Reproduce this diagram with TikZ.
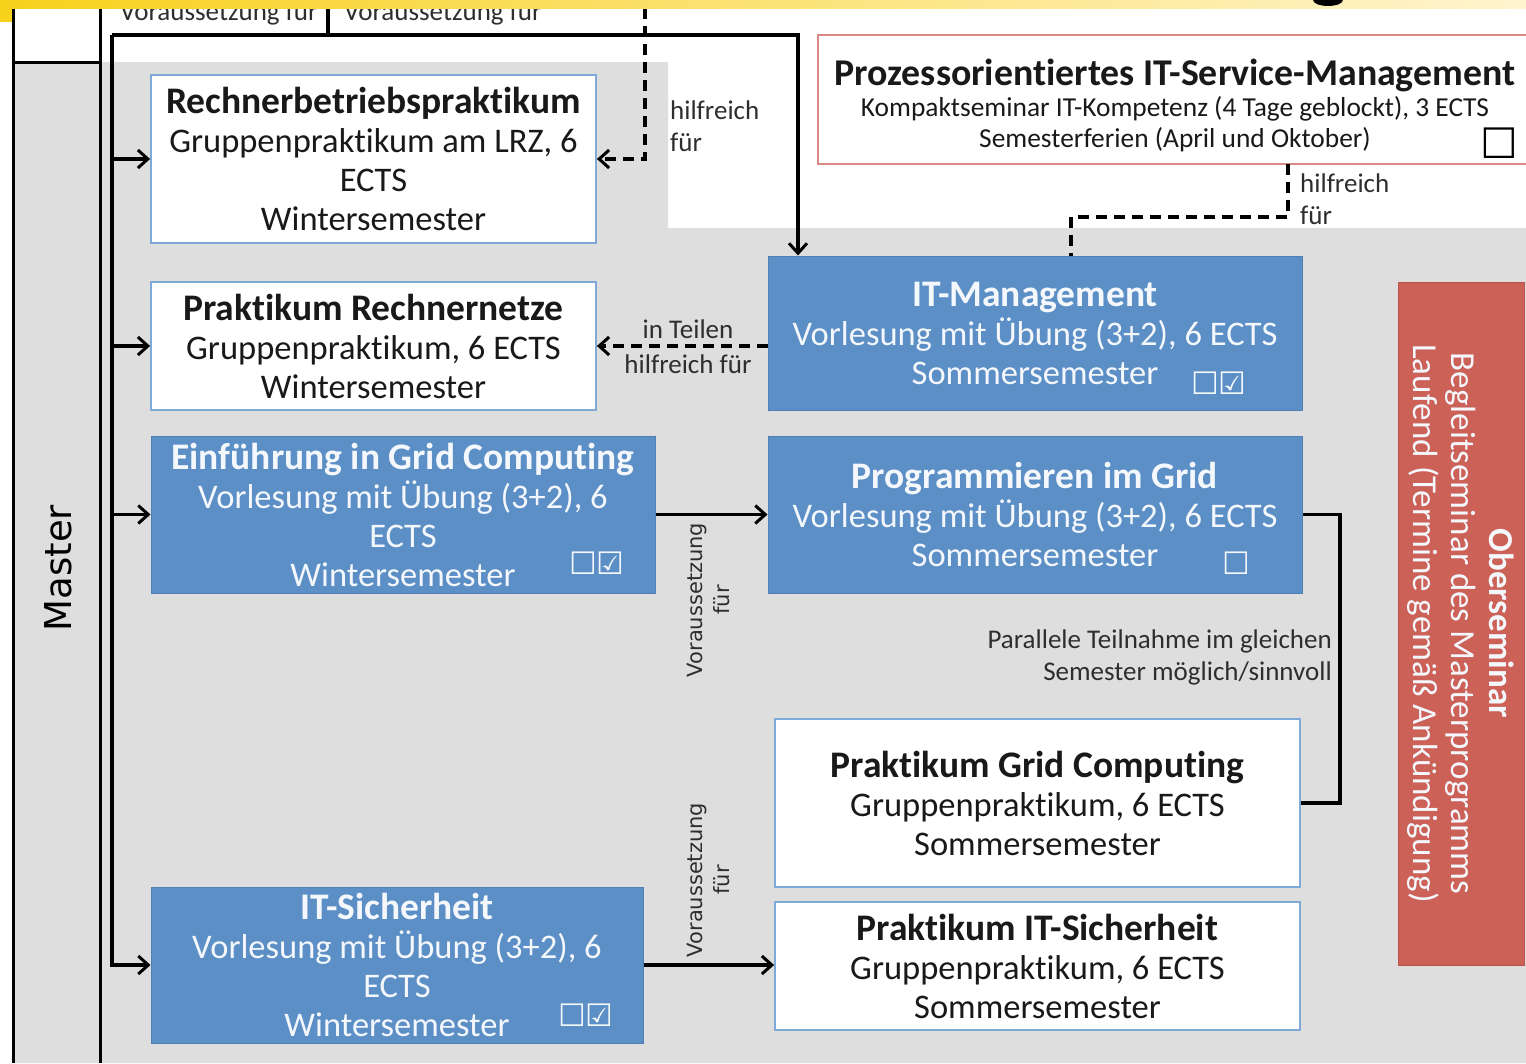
\documentclass[tikz,border=0pt]{standalone}
\usepackage{fontspec}
\setmainfont{Carlito}[Ligatures=NoCommon]
\newfontfamily\dejavu{DejaVu Sans}
\usetikzlibrary{arrows.meta,calc}
\definecolor{boxblue}{HTML}{5B8FC6}
\definecolor{boxblueline}{HTML}{4F80B5}
\definecolor{bordblue}{HTML}{7FA9D8}
\definecolor{bggrey}{HTML}{DEDEDE}
\definecolor{redfill}{HTML}{CC6158}
\definecolor{redfillline}{HTML}{B9544C}
\definecolor{redline}{HTML}{DA8A84}
\definecolor{txtwhite}{HTML}{F4F7FB}
\definecolor{lblgrey}{HTML}{2E2E2E}
\definecolor{yellA}{HTML}{F8D11C}
\definecolor{yellB}{HTML}{FFF4CF}
\begin{document}
\begin{tikzpicture}[x=1pt,y=-1pt,
  wbox/.style={draw=bordblue,line width=1.8pt,fill=white,text=black!90,align=center,inner sep=0pt,
    font=\fontsize{34.5}{39}\selectfont},
  bbox/.style={draw=boxblueline,line width=1pt,fill=boxblue,text=txtwhite,align=center,inner sep=0pt,
    font=\fontsize{34.5}{39}\selectfont},
  lbl/.style={text=lblgrey,inner sep=0pt,font=\fontsize{27}{32}\selectfont},
  rlbl/.style={text=lblgrey,inner sep=0pt,rotate=90,align=center,font=\dejavu\fontsize{21}{27}\selectfont},
  chk/.style={inner sep=0pt,text=txtwhite,font=\dejavu\fontsize{31}{31}\selectfont},
  conn/.style={line width=3.2pt,black},
  arr/.style={conn,-{Straight Barb[length=10pt,width=18pt,line width=3pt]}},
  darr/.style={arr,dash pattern=on 11pt off 7pt},
  dline/.style={conn,dash pattern=on 11pt off 7pt},
]
\useasboundingbox (0,0) rectangle (1526,1063);
\fill[white] (0,0) rectangle (1526,1063);
% grey background
\fill[bggrey] (13,62) -- (668,62) -- (668,228) -- (1526,228) -- (1526,1063) -- (13,1063) -- cycle;
\fill[white] (13,8) rectangle (100,62);
% frame lines of the left column
\draw[line width=3pt] (13,8) -- (13,1063);
\draw[line width=3pt] (100,8) -- (100,1063);
\draw[line width=3pt] (13,62) -- (100,62);
\node[rotate=90,inner sep=0pt,font=\dejavu\fontsize{37}{37}\selectfont] (master) at (58,568) {Master};

% boxes
\newcommand\hdA[1]{{\bfseries\fontsize{37.5}{39}\selectfont #1}}
\node[wbox,minimum width=445pt,minimum height=168pt] (rbp) at (373.5,159)
  {\hdA{Rechnerbetriebspraktikum}\\Gruppenpraktikum am LRZ, 6\\ECTS\\Wintersemester};
\node[wbox,minimum width=445pt,minimum height=128pt] (prn) at (373.5,346)
  {\hdA{Praktikum Rechnernetze}\\Gruppenpraktikum, 6 ECTS\\Wintersemester};
\node[bbox,minimum width=504pt,minimum height=157pt] (egc) at (403,514.5)
  {\hdA{Einführung in Grid Computing}\\Vorlesung mit Übung (3+2), 6\\ECTS\\Wintersemester};
\node[bbox,minimum width=492pt,minimum height=156pt] (its) at (397,965)
  {\hdA{IT-Sicherheit}\\Vorlesung mit Übung (3+2), 6\\ECTS\\Wintersemester};
\node[bbox,minimum width=534pt,minimum height=154pt] (itm) at (1035,333)
  {\hdA{IT-Management}\\Vorlesung mit Übung (3+2), 6 ECTS\\Sommersemester};
\node[bbox,minimum width=534pt,minimum height=157pt] (pig) at (1035,514.5)
  {\hdA{Programmieren im Grid}\\Vorlesung mit Übung (3+2), 6 ECTS\\Sommersemester};
\node[wbox,minimum width=525pt,minimum height=168pt] (pgc) at (1037.5,803)
  {\hdA{Praktikum Grid Computing}\\Gruppenpraktikum, 6 ECTS\\Sommersemester};
\node[wbox,minimum width=525pt,minimum height=128pt] (pis) at (1037.5,966)
  {\hdA{Praktikum IT-Sicherheit}\\Gruppenpraktikum, 6 ECTS\\Sommersemester};
\node[fill=white,inner sep=0pt,minimum width=708pt,minimum height=129pt] (itsm) at (1172,99.5) {};
\node[inner sep=0pt,align=center,font=\fontsize{27.4}{31}\selectfont,text=black!90] (itsmtxt) at (1175,105)
  {{\bfseries\fontsize{37.8}{36}\selectfont Prozessorientiertes IT-Service-Management}\\Kompaktseminar IT-Kompetenz (4 Tage geblockt), 3 ECTS\\Semesterferien (April und Oktober)};
\draw[redline,line width=2pt] (itsm.north east) -- (itsm.north west) -- (itsm.south west) -- (itsm.south east);
\node[fill=redfill,draw=redfillline,line width=1pt,minimum width=126pt,minimum height=683pt,inner sep=0pt] (obs) at (1461,623.5) {};
\node[rotate=-90,text=txtwhite,align=center,inner sep=0pt,font=\fontsize{35}{38}\selectfont] (obstxt) at (obs.center)
  {{\bfseries Oberseminar}\\Begleitseminar des Masterprogramms\\Laufend (Termine gemäß Ankündigung)};

% checkboxes
\node[chk] (c1) at (597,563) {☐☑};
\node[chk] (c2) at (586,1015) {☐☑};
\node[chk] (c3) at (1219,383) {☐☑};
\node[chk] (c4) at (1236,563) {☐};
\node[chk,text=black,font=\dejavu\fontsize{42}{42}\selectfont] (c5) at (1499,143) {☐};

% connectors
\coordinate (tl) at (112,35);
\coordinate (tr) at (798,35);
\coordinate (tb) at (112,965);
\coordinate (sep1) at (328,8);
\coordinate (sep2) at (328,35);
\draw[conn] (sep1) -- (sep2);
\draw[arr] (tl) -- (tr) -- (tr |- itm.north);
\draw[arr] (tl) -- (tb) -- (its.west);
\draw[arr] (tl |- rbp.west) -- (rbp.west);
\draw[arr] (tl |- prn.west) -- (prn.west);
\draw[arr] (tl |- egc.west) -- (egc.west);
\coordinate (d1) at (645,8);
\draw[darr] (d1) |- (rbp.east);
\coordinate (h1) at (1288,164);
\coordinate (h2) at (1288,217);
\coordinate (h3) at (1071,217);
\draw[dline] (h1) -- (h2) -- (h3) -- (h3 |- itm.north);
\draw[darr] (itm.west |- prn.east) -- (prn.east);
\draw[arr] (egc.east) -- (pig.west);
\coordinate (p1) at (1340,514.5);
\draw[conn] (pig.east) -- (p1) |- (pgc.east);
\draw[arr] (its.east) -- (its.east -| pis.west);

% labels
\node[lbl,anchor=west] (t1) at (120,14) {Voraussetzung für};
\node[lbl,anchor=west] (t2) at (344,14) {Voraussetzung für};
\node[lbl,anchor=north west,align=left] (l1) at (670,101) {hilfreich\\für};
\node[lbl,anchor=north west,align=left] (l2) at (1300,174) {hilfreich\\für};
\node[lbl] (l3) at (688,329) {in Teilen};
\node[lbl] (l4) at (688,364) {hilfreich für};
\node[lbl,anchor=east,align=right] (l5) at (1332,657) {Parallele Teilnahme im gleichen\\Semester möglich/sinnvoll};
\node[rlbl] (l6) at (708,600) {Voraussetzung\\für};
\node[rlbl] (l7) at (708,880) {Voraussetzung\\für};

% top bar
\shade[left color=yellA,right color=yellB] (0,0) rectangle (1526,8);
\fill[yellA] (0,0) rectangle (12,22);
\fill[black] (1313,0) .. controls (1314,8) and (1342,8) .. (1343,0) -- cycle;
\end{tikzpicture}
\end{document}
